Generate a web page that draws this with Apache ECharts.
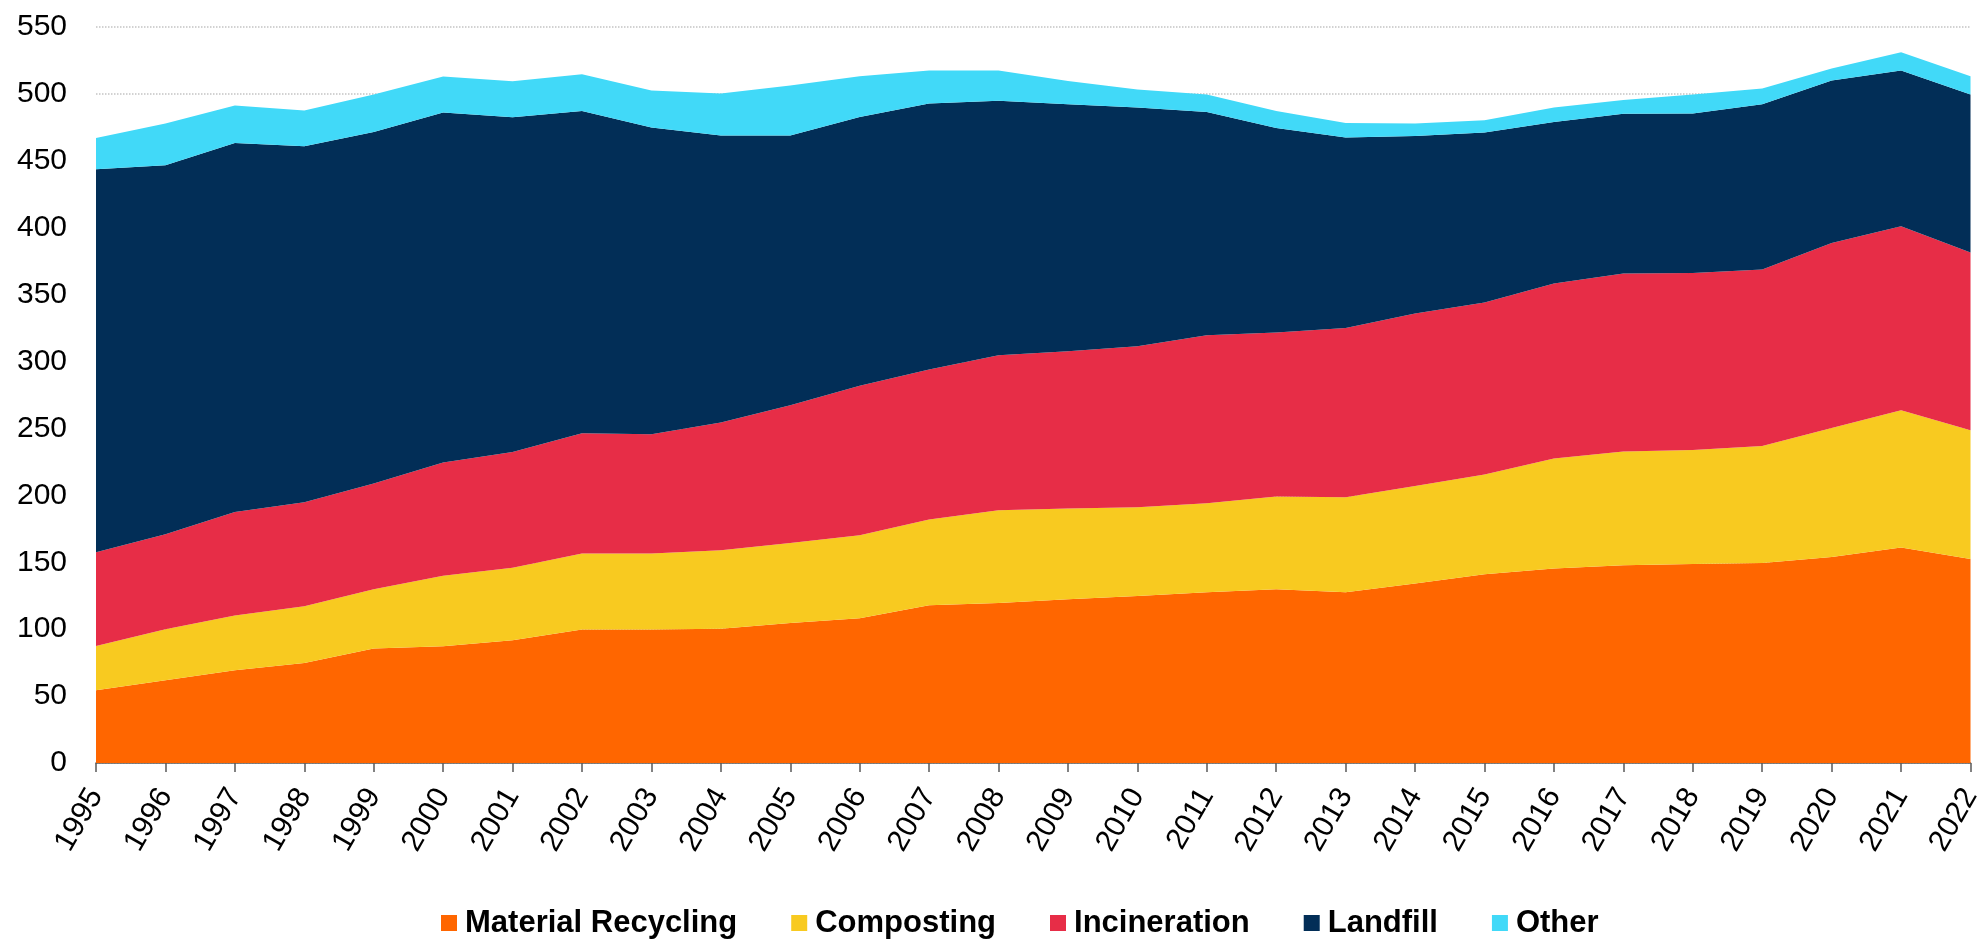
<!DOCTYPE html>
<html>
<head>
<meta charset="utf-8">
<style>
  html, body { margin: 0; padding: 0; background: #ffffff; }
  #chart { width: 1985px; height: 941px; }
</style>
<script src="https://cdn.jsdelivr.net/npm/echarts@6/dist/echarts.min.js"></script>
</head>
<body>
<div id="chart"></div>
<script>
// Municipal waste treatment by route, 1995-2022 (stacked areas)
const years = ['1995','1996','1997','1998','1999','2000','2001','2002','2003','2004',
  '2005','2006','2007','2008','2009','2010','2011','2012','2013','2014',
  '2015','2016','2017','2018','2019','2020','2021','2022'];

const materialRecycling = [54.3, 61.8, 69.3, 74.7, 85.5, 87.2, 91.7, 99.7, 99.7, 100.4,
  104.6, 108.1, 117.9, 119.6, 122.3, 124.8, 127.6, 129.8, 127.6, 134.1,
  141.0, 145.3, 147.8, 148.7, 149.5, 154.0, 161.0, 152.5];

const composting = [33.1, 38.1, 40.9, 42.4, 44.3, 52.8, 54.3, 56.8, 56.8, 58.6,
  59.8, 62.1, 64.0, 69.3, 67.8, 66.3, 66.5, 69.3, 71.0, 72.9,
  74.5, 82.2, 84.9, 85.2, 87.4, 96.4, 102.6, 96.2];

const incineration = [70.1, 71.0, 77.4, 77.7, 79.0, 84.5, 86.4, 89.9, 89.2, 95.4,
  102.9, 111.8, 112.1, 115.8, 117.6, 120.3, 125.6, 122.6, 126.4, 128.9,
  128.6, 130.8, 133.1, 132.3, 131.8, 138.2, 137.5, 132.8];

const landfill = [286.2, 275.8, 275.8, 266.1, 262.8, 261.6, 250.2, 240.9, 229.2, 214.5,
  201.6, 200.8, 198.8, 190.1, 184.6, 178.4, 166.8, 152.9, 142.4, 132.7,
  127.0, 120.8, 119.3, 119.2, 123.6, 121.4, 116.4, 118.0];

const other = [23.4, 31.2, 27.9, 26.7, 27.9, 26.9, 26.9, 27.4, 27.6, 31.4,
  37.4, 30.4, 24.7, 22.7, 17.4, 13.5, 13.0, 12.7, 10.9, 9.3,
  9.2, 10.7, 10.4, 14.1, 11.7, 8.9, 13.7, 13.7];

const seriesNames = ['Material Recycling', 'Composting', 'Incineration', 'Landfill', 'Other'];
const seriesColors = ['#FF6600', '#F8CA20', '#E72D47', '#022E57', '#41D9F8'];
const seriesValues = [materialRecycling, composting, incineration, landfill, other];

const FONT = '"Liberation Sans", Arial, Helvetica, sans-serif';

const chart = echarts.init(document.getElementById('chart'), null, { renderer: 'canvas' });

chart.setOption({
  backgroundColor: '#ffffff',
  animation: false,
  color: seriesColors,
  grid: { left: 96, right: 12, top: 27, bottom: 178, containLabel: false },
  legend: {
    data: seriesNames,
    top: 902,
    left: 436,
    icon: 'rect',
    itemWidth: 16,
    itemHeight: 16,
    itemGap: 54,
    textStyle: {
      fontFamily: FONT, fontSize: 31, lineHeight: 32, fontWeight: 'bold',
      color: '#000000', padding: [0, 0, 0, 3]
    }
  },
  xAxis: {
    type: 'category',
    data: years,
    boundaryGap: false,
    axisLine: { show: true, lineStyle: { color: '#595959', width: 1.5 } },
    axisTick: { show: true, alignWithLabel: true, length: 9, lineStyle: { color: '#595959', width: 1.5 } },
    axisLabel: {
      interval: 0,
      rotate: 60,
      margin: 28,
      fontFamily: FONT,
      fontSize: 30,
      color: '#000000'
    },
    splitLine: { show: false }
  },
  yAxis: {
    type: 'value',
    min: 0,
    max: 550,
    interval: 50,
    axisLine: { show: false },
    axisTick: { show: false },
    axisLabel: { margin: 29, fontFamily: FONT, fontSize: 30, color: '#000000' },
    splitLine: { show: true, lineStyle: { color: '#c4c4c4', width: 1.5, type: 'dotted' } }
  },
  series: seriesNames.map((name, i) => ({
    name: name,
    type: 'line',
    stack: 'total',
    data: seriesValues[i],
    symbol: 'none',
    lineStyle: { width: 0 },
    areaStyle: { color: seriesColors[i], opacity: 1 },
    itemStyle: { color: seriesColors[i] },
    z: 2
  }))
});
</script>
</body>
</html>
